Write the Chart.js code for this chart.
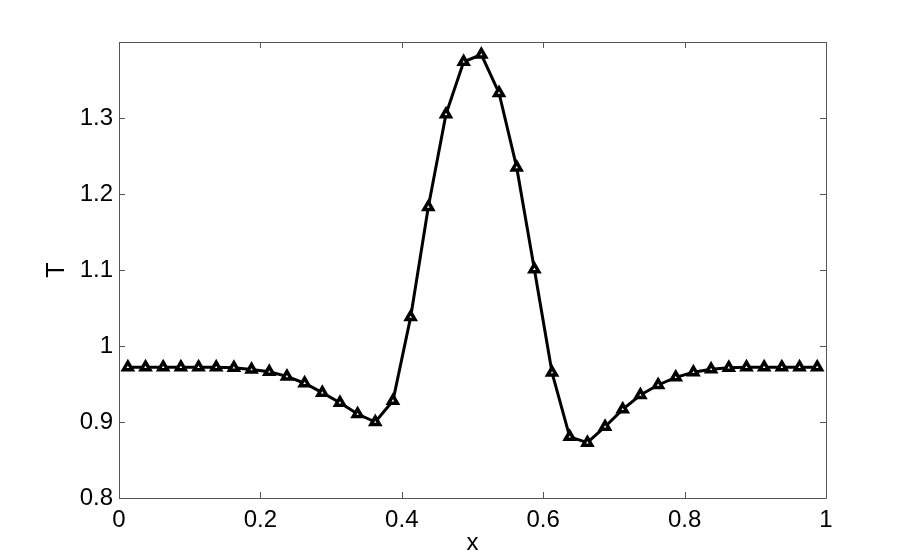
<!DOCTYPE html>
<html>
<head>
<meta charset="utf-8">
<script src="https://cdn.jsdelivr.net/npm/chart.js@4"></script>
<style>
  html, body { margin: 0; padding: 0; background: #fff; }
  #wrap { width: 913px; height: 560px; }
</style>
</head>
<body>
<div id="wrap"><canvas id="tChart" width="913" height="560"></canvas></div>
<script>
var x_values = [0.0125, 0.0375, 0.0625, 0.0875, 0.1125, 0.1375, 0.1625, 0.1875, 0.2125, 0.2375,
                0.2625, 0.2875, 0.3125, 0.3375, 0.3625, 0.3875, 0.4125, 0.4375, 0.4625, 0.4875,
                0.5125, 0.5375, 0.5625, 0.5875, 0.6125, 0.6375, 0.6625, 0.6875, 0.7125, 0.7375,
                0.7625, 0.7875, 0.8125, 0.8375, 0.8625, 0.8875, 0.9125, 0.9375, 0.9625, 0.9875];

var t_values = [0.9722, 0.9722, 0.9722, 0.9722, 0.9722, 0.9720, 0.9715, 0.9690, 0.9660, 0.9600,
                0.9510, 0.9386, 0.9254, 0.9105, 0.9000, 0.9280, 1.0380, 1.1830, 1.3050, 1.3740,
                1.3835, 1.3330, 1.2350, 1.1010, 0.9650, 0.8805, 0.8728, 0.8938, 0.9167, 0.9355,
                0.9487, 0.9588, 0.9654, 0.9693, 0.9715, 0.9722, 0.9722, 0.9722, 0.9722, 0.9722];

var x_ticks = [0, 0.2, 0.4, 0.6, 0.8, 1];
var y_ticks = [0.8, 0.9, 1, 1.1, 1.2, 1.3];

var axisColor = '#555';
var fontFamily = "'Liberation Sans', Arial, Helvetica, sans-serif";

// box round the plot + inward tick marks on all four sides
var boxTicks = {
    id: 'boxTicks',
    afterDraw(chart) {
        const ctx = chart.ctx;
        const a = chart.chartArea;
        const xs = chart.scales.x;
        const ys = chart.scales.y;
        const len = 6;
        ctx.save();
        ctx.strokeStyle = axisColor;
        ctx.lineWidth = 1;
        ctx.beginPath();
        ctx.rect(Math.round(a.left) + 0.5, Math.round(a.top) + 0.5,
                 Math.round(a.right - a.left), Math.round(a.bottom - a.top));
        x_ticks.forEach(function (v) {
            const px = Math.round(xs.getPixelForValue(v)) + 0.5;
            ctx.moveTo(px, a.bottom); ctx.lineTo(px, a.bottom - len);
            ctx.moveTo(px, a.top); ctx.lineTo(px, a.top + len);
        });
        y_ticks.forEach(function (v) {
            const py = Math.round(ys.getPixelForValue(v)) + 0.5;
            ctx.moveTo(a.left, py); ctx.lineTo(a.left + len, py);
            ctx.moveTo(a.right, py); ctx.lineTo(a.right - len, py);
        });
        ctx.stroke();
        ctx.restore();
    }
};

const points = x_values.map((x, i) => ({ x: x, y: t_values[i] }));

new Chart(document.getElementById('tChart').getContext('2d'), {
    type: 'line',
    data: {
        datasets: [{
            label: 'T',
            data: points,
            borderColor: '#000',
            borderWidth: 3,
            tension: 0,
            fill: false,
            pointStyle: 'triangle',
            pointRadius: 5,
            pointBorderWidth: 3.5,
            pointBorderColor: '#000',
            pointBackgroundColor: '#fff'
        }]
    },
    options: {
        responsive: false,
        animation: false,
        layout: { padding: { left: 0, top: 42, right: 87, bottom: 0 } },
        plugins: { legend: { display: false }, tooltip: { enabled: false } },
        scales: {
            x: {
                type: 'linear',
                min: 0, max: 1,
                afterFit(scale) { scale.height = 62; },
                afterBuildTicks(scale) { scale.ticks = x_ticks.map(v => ({ value: v })); },
                grid: { display: false, drawTicks: false },
                border: { display: false },
                ticks: {
                    color: '#000', padding: 8, maxRotation: 0, autoSkip: false,
                    font: { family: fontFamily, size: 24 },
                    callback: v => String(v)
                },
                title: {
                    display: true, text: 'x', color: '#000',
                    font: { family: fontFamily, size: 24 },
                    padding: { top: 0, bottom: 2 }
                }
            },
            y: {
                min: 0.8, max: 1.4,
                afterFit(scale) { scale.width = 119; },
                afterBuildTicks(scale) { scale.ticks = y_ticks.map(v => ({ value: v })); },
                grid: { display: false, drawTicks: false },
                border: { display: false },
                ticks: {
                    color: '#000', padding: 6, autoSkip: false,
                    font: { family: fontFamily, size: 24 },
                    callback: v => String(v)
                },
                title: {
                    display: true, text: 'T', color: '#000',
                    font: { family: fontFamily, size: 25 },
                    padding: { top: 42, bottom: 0 }
                }
            }
        }
    },
    plugins: [boxTicks]
});
</script>
</body>
</html>
